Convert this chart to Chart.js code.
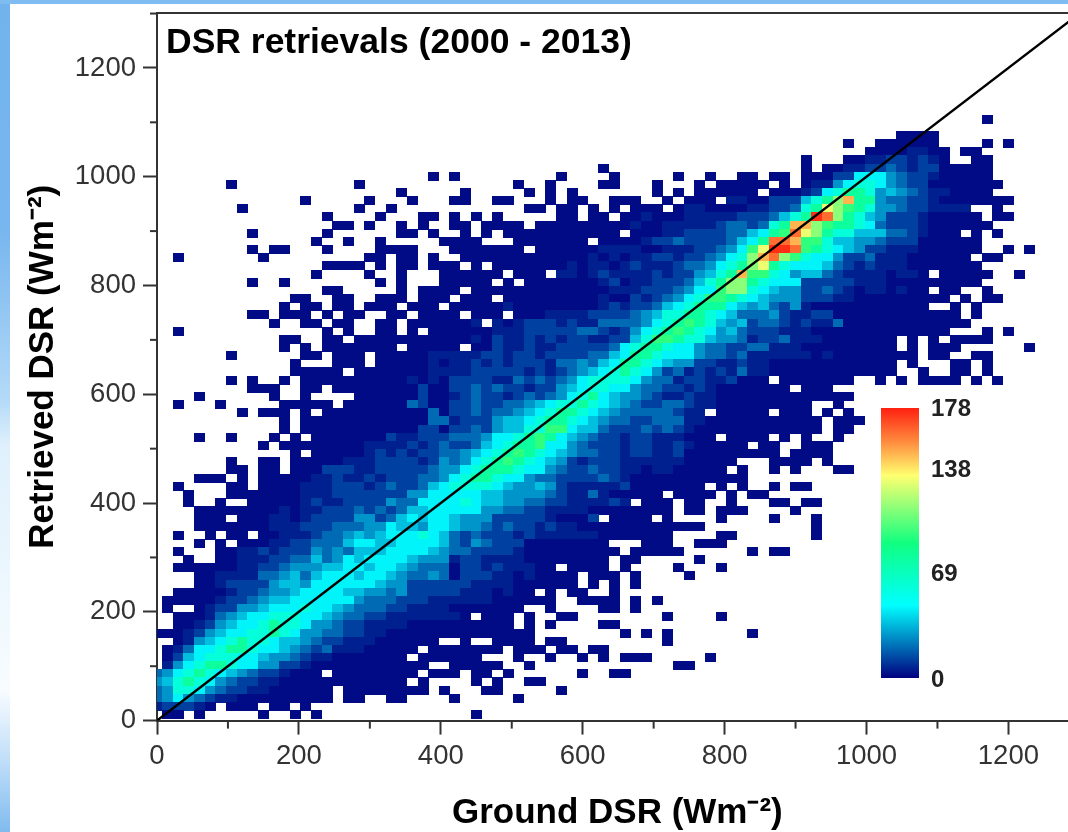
<!DOCTYPE html>
<html><head><meta charset="utf-8">
<style>
html,body{margin:0;padding:0;width:1068px;height:832px;overflow:hidden;background:#fff}
#strip{position:absolute;left:0;top:0;width:1068px;height:832px;
 background:linear-gradient(180deg,#72b3ee 0,#78b6ef 230px,#8fc4f2 300px,#a0cef5 345px,#b4daf7 400px,#dff0fc 445px,#eef8fe 600px,#f8fcff 690px,#b8daf7 770px,#80bbef 832px)}
#panel{position:absolute;left:10px;top:4px;width:1058px;height:828px;background:#fff}
#top{position:absolute;left:0;top:0;width:1068px;height:4px;background:#7fbcf1}
canvas{position:absolute;left:0;top:0}
</style></head><body>
<div id="strip"></div><div id="panel"></div><div id="top"></div>
<canvas id="c" width="1068" height="832"></canvas>
<script src="https://cdn.jsdelivr.net/npm/chart.js@4/dist/chart.umd.min.js"></script>
<script>
const chartTitle = "DSR retrievals (2000 - 2013)";
const xTitle = "\u00A0Ground DSR (Wm\u207B\u00B2)";
const yTitle = "Retrieved DSR (Wm\u207B\u00B2)";
const majorTicks = [0,200,400,600,800,1000,1200];
const minorTicks = [100,300,500,700,900,1100,1300];
const diagonal = [0,1300];
const colorbarTicks = [0,69,138,178];
const binSize = 15;
// counts for the density codes 1..f
const levelCounts = [2,6,12,20,28,36,46,60,80,95,112,130,148,162,175];
// [row, "cells"]: "a-b" or "a" are occupied bins (lowest code), "c:xyz" gives codes from column c on
const densityRows = [
[74,"78"],
[72,"70-73"],
[71,"65 68-73 78 80"],
[70,"67-74 76-77 70:122"],
[69,"61 65-74 77-78 67:2233232"],
[68,"42 61 63-78 65:223343233"],
[67,"26 28 38 43 49 52 55-56 58-59 61-78 64:3377754332"],
[66,"7 19 34 37 42-43 47 51 53-57 59 61-79 62:22578875433"],
[65,"23 29 35 37 39 47 49 51-56 58-78 61:23789985654322"],
[64,"14 20 24 28-29 32-33 37 39-40 43-45 48 50-52 54-80 54:22 58:333689bd99544332"],
[63,"8 19 22 35-36 38-39 41 43 45-47 49-76 79 50:22 56:2233489cba98554332222"],
[62,"16 21 25-26 28 30 32 38-39 41-42 44-77 79-80 46:2 50:22222 55:3 56:334689feb98653332"],
[61,"17-18 20 23 25 28-29 31-34 36-78 45:2 48:22222 53:344 56:3489ddba998743332"],
[60,"9 16 23-24 26 29 31 33-43 45-75 77 79 48:22333344 56:679aecb9886664432"],
[59,"15 18 21 27-30 34-40 42-77 46:2334333346 56:79eedaa866554333"],
[58,"9 11-12 16 21-24 28-34 36-77 80 82 42:22221122233457 56:acffea9876533222"],
[57,"2 10 20-21 23-24 26 29-76 78-79 41:2 43:2 45:22332334578 56:bdeba8775334222"],
[56,"16-19 21 23-24 26-28 30 32-77 39:2 41:22 44:232223445789 56:bc9877764323222"],
[55,"15 20 23 27-32 34-36 38-72 74-78 81 38:22 41:23222232335689d 56:aa87566432222 70:22"],
[54,"9 12 21 23 27-31 33 35-77 42:231223334689bb 56:9877733333222"],
[53,"16-17 23 25-28 30-72 74-75 78 43:2223334577abb 56:876553343212212"],
[52,"13-14 17-18 21-23 25-27 29-31 33-74 76 78-79 42:2 45:3234578aa98 56:7655533322"],
[51,"12 14-15 17-18 20-22 24-26 28-72 75 77 33:2 42:2 43:3233467899976 56:564352"],
[50,"9-10 12-14 16 18-19 22-23 25-28 30-32 34-75 77 37:2222333345688998764 56:44532233"],
[49,"11 14-15 17-18 21-22 24-30 32-76 30:2 32:2 34:2333232244445789a98656 56:344323224"],
[48,"2 16 18 21-22 24 26-74 78 80 32:2223333344323 45:5789a987564 56:333222"],
[47,"12-13 16-17 19-69 71 73 75-78 30:21322323233223368aa9886554 56:2334222"],
[46,"12 14 16-22 24-28 30-69 71 73-75 82 32:322322333334789987754433 56:44222"],
[45,"7 14-15 17-19 21-71 73-74 77-78 26:222223323323333446799877754434 56:22222212"],
[44,"13 17-19 21-69 71 75-76 78 26:2 28:2232323332445467998765533223 56:22"],
[43,"13-17 19-69 72 75-76 78 26:222233333232345678987534232324 56:22"],
[42,"7 9 12 14-57 59-65 68 70 72-75 77 79 24:2 26:2 28:333322434345788887544233223"],
[41,"9-11 14-15 17-59 61-63 25:3 28:3343433233567887754433232"],
[40,"4 11 14 19-65 25:3 28:2343323434578976554322322"],
[39,"2 6 12-16 18-61 64 24:43 28:3343344567889876543344322"],
[38,"8 10-12 14 16-51 53-57 59-61 63 65 26:4 28:334344567899876544444322"],
[37,"12 14-62 64-66 26:44 28:233356678998765443344422"],
[36,"12 14-62 64-65 25:33 28:334356688aa766433343432"],
[35,"4 7 11 13 15-52 54-57 59 61 64 22:322333 28:44457789a9765433233222"],
[34,"10 12-55 57-58 61-63 20:22223234 28:33467899a77543332332232"],
[33,"13 15-58 60-63 20:23232334 28:456789a987654433233223"],
[32,"7 10-11 13-54 58-61 63 18:2223333235 28:45789a9876532333222222"],
[31,"7-8 10-11 13-53 55 58 60 64-65 16:333223333345 28:578999877543343322122"],
[30,"4-6 8 10-55 15:2232232333445 28:78998775443333432"],
[29,"2 7-8 10-51 53 55 58 60-61 14:22233323433467 28:88887655653222223"],
[28,"3 7-47 49-52 54 56-57 14:22233333335577 28:777665555432242"],
[27,"3 6 9-44 46-48 50-51 54 58-59 61-62 14:23223333544777 28:78766554433222232"],
[26,"4-48 50-51 53-55 60 12:2122333434346677 28:7775544332222"],
[25,"4-6 8-41 43-46 48 53 58 62 11:22123333553467677 28:6555333332 41:3"],
[24,"4-51 62 11:22233344455766577 28:655434332322"],
[23,"2 5 7-8 10-48 53-54 62 12:2223445656777876 28:43433323222222"],
[22,"4 6 8-42 46-48 51-53 11:22334446776677776 28:4354333"],
[21,"2 6-43 45-49 56 58-59 8:22323335454666777765 28:4433332"],
[20,"3 6-42 44-45 51 8:22233446457677776555 28:2332222"],
[19,"2-37 39-42 44 49 53 8:22334555667767765444 28:13323222"],
[18,"4-39 41-43 45 50 6:2222445646777677654454 28:13332212"],
[17,"4-39 41 43 45 6:2333356657777776553 25:333332222"],
[16,"2-35 37 39-40 43 7:233455677776655453333 28:322212"],
[15,"1-37 40-43 45 47 6:2334566777777544433322 28:2222"],
[14,"1 4-34 37 42-43 45 5:23355677787765444332222"],
[13,"2-29 31-33 35 38-39 48 53 5:245677888776544332222222"],
[12,"2-33 35 37 42-43 4:23567789887554332222"],
[11,"0-35 44 46 48 56 3:2356778898755443322"],
[10,"2-26 29 32-35 37-38 48 3:256789887665433222"],
[9,"1-24 26-32 34-36 38-39 41-42 2:247789987765434222"],
[8,"1-23 25-30 34 37 40 42 44-46 52 2:367888776554322"],
[7,"1-25 28-32 35 49-50 1:25789987755332"],
[6,"0-15 17-24 26-28 30-31 33 40 43-44 0:4578987654332"],
[5,"0-23 25 30 32 35-36 0:568987543322"],
[4,"0-16 18-25 27 31-32 38 0:45887543322"],
[3,"0-16 18-19 22-23 28 34 0:45754322"],
[2,"0-5 7-9 11-12 14 0:23332"],
[1,"1-2 4 10 13 15 30"]
];
const colorStops = [[0,[0,0,128]],[0.27,[0,255,255]],[0.5,[16,255,128]],[0.75,[255,255,112]],[0.87,[255,144,64]],[1,[255,32,16]]];
const maxCount = 178;

function colorFor(v){
  const f=Math.min(1,v/maxCount);
  for(let k=1;k<colorStops.length;k++){
    if(f<=colorStops[k][0]){
      const a=colorStops[k-1],b=colorStops[k],t=(f-a[0])/(b[0]-a[0]);
      return 'rgb('+a[1].map((c,n)=>Math.round(c+(b[1][n]-c)*t)).join(',')+')';
    }
  }
  return 'rgb(255,32,16)';
}
const swatches={};
function swatch(v){
  if(!swatches[v]){
    const s=document.createElement('canvas');s.width=11;s.height=9;
    const g=s.getContext('2d');g.fillStyle=colorFor(v);g.fillRect(0,0,11,9);
    swatches[v]=s;
  }
  return swatches[v];
}
const cells=[];
densityRows.forEach(([j,text])=>{
  const row={};
  const tokens=text.split(' ');
  tokens.filter(t=>!t.includes(':')).forEach(t=>{
    const p=t.split('-').map(Number);
    for(let i=p[0];i<=(p.length>1?p[1]:p[0]);i++) row[i]=levelCounts[0];
  });
  tokens.filter(t=>t.includes(':')).forEach(t=>{
    const [c,s]=t.split(':');
    [...s].forEach((ch,k)=>{const i=Number(c)+k;if(row[i]!==undefined) row[i]=levelCounts[parseInt(ch,16)-1];});
  });
  Object.keys(row).forEach(i=>cells.push({x:Number(i)*binSize,y:j*binSize-4,v:row[i]}));
});

const AXIS='#333333', FONT='"Liberation Sans",Arial,sans-serif';
const extras={
  id:'extras',
  afterDraw(chart){
    const {ctx,chartArea:a,scales:{x,y}}=chart;
    ctx.save();
    ctx.strokeStyle=AXIS;ctx.lineWidth=2;
    ctx.beginPath();ctx.moveTo(a.left,a.top);ctx.lineTo(a.right,a.top);ctx.stroke();
    minorTicks.forEach(v=>{
      if(v<=x.max){const p=x.getPixelForValue(v);ctx.beginPath();ctx.moveTo(p,a.bottom);ctx.lineTo(p,a.bottom+8);ctx.stroke();}
      const q=y.getPixelForValue(v);ctx.beginPath();ctx.moveTo(a.left,q);ctx.lineTo(a.left-7,q);ctx.stroke();
    });
    ctx.fillStyle='#000';ctx.font='bold 35.5px '+FONT;ctx.textAlign='left';ctx.textBaseline='middle';
    ctx.fillText(chartTitle,166,43);
    // colour bar
    const bx=881,bw=38,bt=408,bb=678;
    const g=ctx.createLinearGradient(0,bb,0,bt);
    colorStops.forEach(s=>g.addColorStop(s[0],'rgb('+s[1].join(',')+')'));
    ctx.fillStyle=g;ctx.fillRect(bx,bt,bw,bb-bt);
    ctx.fillStyle='#222';ctx.font='bold 24px '+FONT;
    const labelY={0:680,69:574,138:470,178:409};
    colorbarTicks.forEach(v=>ctx.fillText(String(v),931,labelY[v]));
    ctx.restore();
  }
};
const noPad=s=>{s.paddingLeft=0;s.paddingRight=0;s.paddingTop=0;s.paddingBottom=0;};
new Chart(document.getElementById('c'),{
  data:{datasets:[
    {type:'line',order:0,data:diagonal.map(v=>({x:v,y:v})),borderColor:'#000',borderWidth:2.4,pointRadius:0,fill:false},
    {type:'scatter',order:1,data:cells,pointRadius:5,pointHoverRadius:5,pointBorderWidth:0,
     pointStyle:c=>c.raw?swatch(c.raw.v):'rect'}
  ]},
  options:{
    responsive:false,animation:false,devicePixelRatio:1,
    layout:{autoPadding:false,padding:{top:13,right:0,left:0,bottom:0}},
    plugins:{legend:{display:false},tooltip:{enabled:false},title:{display:false}},
    scales:{
      x:{type:'linear',min:0,max:1284,
        afterFit(s){s.height=111.4;noPad(s);},
        afterBuildTicks(s){s.ticks=majorTicks.map(v=>({value:v}));},
        border:{display:true,color:AXIS,width:2},
        grid:{display:true,drawOnChartArea:false,drawTicks:true,tickLength:14,tickColor:AXIS,tickWidth:2},
        ticks:{color:'#333',font:{family:FONT,size:27.5},padding:5,maxRotation:0,autoSkip:false,callback:v=>String(v)},
        title:{display:true,text:xTitle,color:'#000',font:{family:FONT,size:35,weight:'bold'},padding:{top:0,bottom:-2}}
      },
      y:{type:'linear',min:0,max:1301,
        afterFit(s){s.width=157;noPad(s);},
        afterBuildTicks(s){s.ticks=majorTicks.map(v=>({value:v}));},
        border:{display:true,color:AXIS,width:2},
        grid:{display:true,drawOnChartArea:false,drawTicks:true,tickLength:14,tickColor:AXIS,tickWidth:2},
        ticks:{color:'#333',font:{family:FONT,size:27.5},padding:7,autoSkip:false,callback:v=>String(v)},
        title:{display:true,text:yTitle,color:'#000',font:{family:FONT,size:35,weight:'bold'},padding:{top:22,bottom:0}}
      }
    }
  },
  plugins:[extras]
});
</script></body></html>
